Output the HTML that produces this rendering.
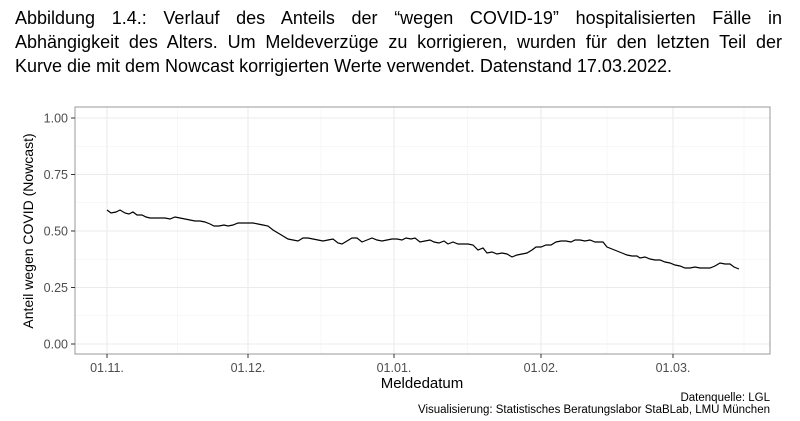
<!DOCTYPE html>
<html><head><meta charset="utf-8"><style>
body{margin:0;width:800px;height:421px;background:#fff;overflow:hidden;font-family:"Liberation Sans",sans-serif}
.t{position:absolute;left:15px;width:767px;font-size:18px;line-height:24px;color:#000}
.j{text-align:justify;text-align-last:justify}
</style></head><body>
<div class="t j" style="top:6px">Abbildung 1.4.: Verlauf des Anteils der “wegen COVID-19” hospitalisierten Fälle in</div>
<div class="t j" style="top:30px">Abhängigkeit des Alters. Um Meldeverzüge zu korrigieren, wurden für den letzten Teil der</div>
<div class="t" style="top:54px">Kurve die mit dem Nowcast korrigierten Werte verwendet. Datenstand 17.03.2022.</div>
<svg width="800" height="421" style="position:absolute;left:0;top:0" font-family="Liberation Sans, sans-serif">
<g stroke="#f2f2f2" stroke-width="0.6">
<line x1="75" x2="770" y1="146.25" y2="146.25"/><line x1="75" x2="770" y1="202.75" y2="202.75"/><line x1="75" x2="770" y1="259.25" y2="259.25"/><line x1="75" x2="770" y1="315.75" y2="315.75"/>
<line x1="177.5" x2="177.5" y1="107" y2="354"/><line x1="321" x2="321" y1="107" y2="354"/><line x1="467.5" x2="467.5" y1="107" y2="354"/><line x1="607" x2="607" y1="107" y2="354"/><line x1="744" x2="744" y1="107" y2="354"/>
</g>
<g stroke="#ebebeb" stroke-width="1.1">
<line x1="75" x2="770" y1="118" y2="118"/><line x1="75" x2="770" y1="174.5" y2="174.5"/><line x1="75" x2="770" y1="231" y2="231"/><line x1="75" x2="770" y1="287.5" y2="287.5"/><line x1="75" x2="770" y1="344" y2="344"/>
<line x1="107" x2="107" y1="107" y2="354"/><line x1="248" x2="248" y1="107" y2="354"/><line x1="394" x2="394" y1="107" y2="354"/><line x1="541" x2="541" y1="107" y2="354"/><line x1="673" x2="673" y1="107" y2="354"/>
</g>
<rect x="75" y="107" width="695" height="247" fill="none" stroke="#999" stroke-width="1"/>
<g stroke="#333" stroke-width="1">
<line x1="71" x2="75" y1="118" y2="118"/><line x1="71" x2="75" y1="174.5" y2="174.5"/><line x1="71" x2="75" y1="231" y2="231"/><line x1="71" x2="75" y1="287.5" y2="287.5"/><line x1="71" x2="75" y1="344" y2="344"/>
<line x1="107" x2="107" y1="354" y2="358"/><line x1="248" x2="248" y1="354" y2="358"/><line x1="394" x2="394" y1="354" y2="358"/><line x1="541" x2="541" y1="354" y2="358"/><line x1="673" x2="673" y1="354" y2="358"/>
</g>
<g fill="#4d4d4d" font-size="12.5" text-anchor="end">
<text x="68" y="122.5">1.00</text><text x="68" y="179">0.75</text><text x="68" y="235.5">0.50</text><text x="68" y="292">0.25</text><text x="68" y="348.5">0.00</text>
</g>
<g fill="#4d4d4d" font-size="12.5" text-anchor="middle">
<text x="107" y="372">01.11.</text><text x="248" y="372">01.12.</text><text x="394" y="372">01.01.</text><text x="541" y="372">01.02.</text><text x="673" y="372">01.03.</text>
</g>
<text x="422" y="388" font-size="15" text-anchor="middle">Meldedatum</text>
<text transform="translate(33,231) rotate(-90)" font-size="14" text-anchor="middle">Anteil wegen COVID (Nowcast)</text>
<text x="770" y="401" font-size="11.5" text-anchor="end">Datenquelle: LGL</text>
<text x="770" y="413" font-size="11.5" text-anchor="end">Visualisierung: Statistisches Beratungslabor StaBLab, LMU München</text>
<polyline fill="none" stroke="#000" stroke-width="1.2" points="107,210 111,213 116,212 120,210 125,213 129,214 133,212 137,215 142,215 146,217 150,218 155,218 160,218 165,218 170,219 175,217 180,218 185,219 190,220 195,221 200,221 205,222 210,224 214,226 219,226 224,225 228,226 233,225 238,223 243,223 248,223 253,223 258,224 263,225 268,226 273,230 278,233 283,236 288,239 293,240 298,241 303,238 308,238 313,239 318,240 323,241 328,240 333,239 338,243 342,244 347,241 352,238 357,238 362,242 367,240 372,238 377,240 382,241 387,240 392,239 397,239 402,240 406,238 411,239 415,238 420,242 425,241 430,240 434,242 439,243 444,241 448,244 453,242 458,244 463,244 468,244 473,245 478,250 483,248 487,253 492,252 497,254 502,253 507,254 512,257 517,255 522,254 527,253 532,250 536,247 541,247 546,245 551,245 556,242 561,241 566,241 571,242 575,240 580,240 585,241 590,240 595,242 600,242 603,242 607,247 612,249 617,251 622,253 627,255 632,256 637,256 640,258 645,257 650,259 655,260 660,260 665,262 670,263 675,265 680,266 685,268 690,268 695,267 700,268 705,268 710,268 715,266 720,263 725,264 730,264 734,267 739,269"/>
</svg>
</body></html>
